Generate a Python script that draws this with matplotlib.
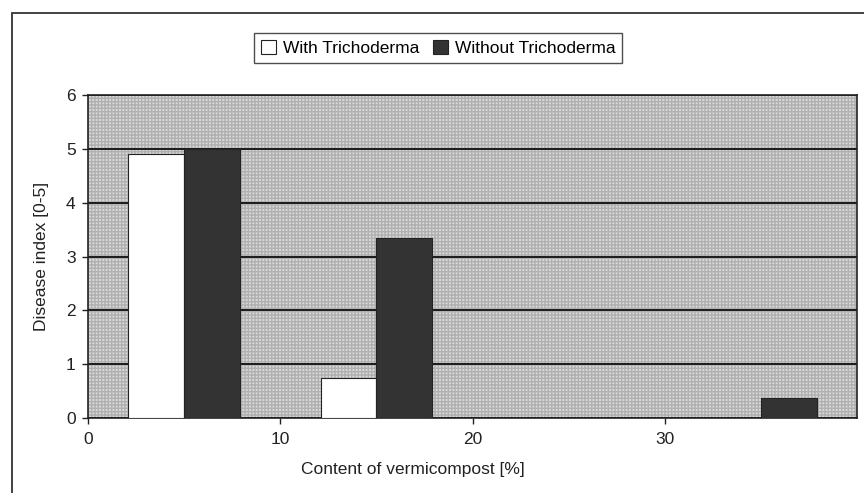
import matplotlib.pyplot as plt
from matplotlib.patches import Rectangle

plt.rcParams['font.family'] = ['Liberation Sans', 'DejaVu Sans']

# vermicompost content [%] and disease index per treatment
content = [5, 15, 35]
with_tricho = [4.9, 0.75, 0.0]
without_tricho = [5.0, 3.35, 0.38]
labels = ["With Trichoderma", "Without Trichoderma"]

fig = plt.figure(figsize=(8.64, 4.93), dpi=100)
ax = fig.add_axes([0.102, 0.152, 0.89, 0.655])

# stippled grey background of the plot area
ax.set_facecolor('#dadada')
ax.add_patch(Rectangle((0, 0), 1, 1, transform=ax.transAxes, facecolor='none',
                       edgecolor='#b0b0b0', hatch='+++++', linewidth=0, zorder=0))

w = 2.9
xs = [c - w / 2 for c in content]
xd = [c + w / 2 for c in content]
ax.bar(xs, with_tricho, width=w, color='white', edgecolor='#222222', linewidth=0.8,
       label=labels[0], zorder=3)
ax.bar(xd, without_tricho, width=w, color='#333333', edgecolor='#222222', linewidth=0.8,
       label=labels[1], zorder=3)

ax.set_xlim(0, 40)
ax.set_ylim(0, 6)
ax.set_xticks([0, 10, 20, 30])
ax.set_yticks(range(7))
ax.yaxis.grid(True, color='#1a1a1a', linewidth=1.4, zorder=1)
ax.set_axisbelow(True)
for s in ax.spines.values():
    s.set_color('#222222')
    s.set_linewidth(1.2)
ax.tick_params(axis='both', labelsize=12.5, colors='#222222', length=4, width=1.0)
ax.tick_params(axis='x', pad=6)
ax.tick_params(axis='y', pad=5)

ax.set_ylabel("Disease index [0-5]", fontsize=12.5, color='#222222', labelpad=12)
fig.text(0.478, 0.047, "Content of vermicompost [%]", ha='center', va='center',
         fontsize=12.5, color='#222222')

leg = ax.legend(loc='center', bbox_to_anchor=(0.455, 1.147), ncol=2, frameon=True,
                fancybox=False, edgecolor='#222222', fontsize=12.5, handlelength=0.85,
                handleheight=0.85, handletextpad=0.4, columnspacing=0.8,
                borderpad=0.4, borderaxespad=0)
leg.get_frame().set_linewidth(1.0)

# outer chart frame
fig.patches.append(Rectangle((0.014, -0.2), 1.2, 1.174, transform=fig.transFigure,
                             facecolor='none', edgecolor='#333333', linewidth=1.3))

fig.savefig('out.png', dpi=100)
